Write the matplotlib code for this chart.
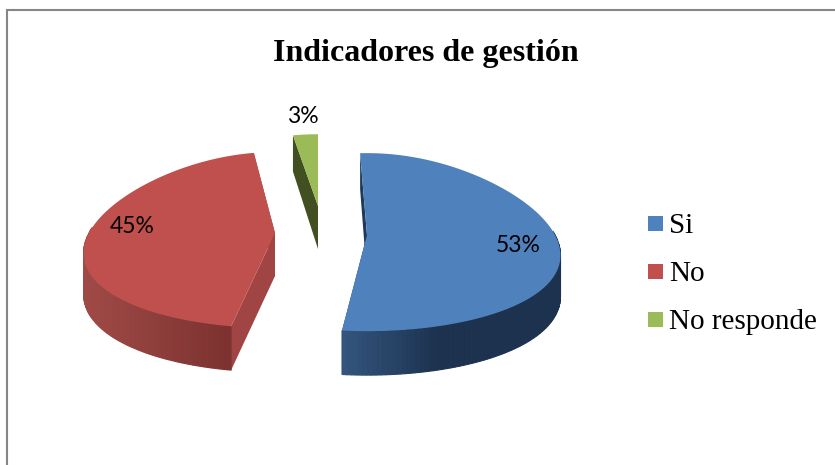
import numpy as np
import matplotlib.pyplot as plt
from matplotlib.colors import to_rgb
from matplotlib.patches import Polygon, Rectangle

# data
categories = ['Si', 'No', 'No responde']
values = [53, 45, 3]
labels = ['53%', '45%', '3%']

colors = ['#4f81bd', '#c0504d', '#9bbb59']
wall_left = ['#34567f', '#a04a47', '#414f21']
wall_right = ['#1c324e', '#762e2c', '#414f21']
radial_colors = ['#1f3a5c', '#a04543', '#414f21']

# exploded slice layout, in pixels: apex x, apex y, rx, ry, then a small turn in degrees
layout = [(367, 235, 188, 89, -2.8), (275, 233, 186, 88, 2.0), (318, 206, 179, 78, 0.0)]
label_pos = [(518, 245), (132, 226), (303, 116)]
persp_x = 0.25
persp_y = 0.08
depth_back = 36
depth_front = 44


def project(theta, cx, cy, rx, ry):
    # theta runs clockwise from 12 o'clock
    u = np.sin(theta)
    v = -np.cos(theta)
    return cx + rx * u * (1 + persp_x * v), cy + ry * v * (1 + persp_y * v)


def depth(theta):
    v = -np.cos(theta)
    return (depth_back + depth_front) / 2 + (depth_front - depth_back) / 2 * v


fig = plt.figure(figsize=(8.35, 4.65), dpi=100)
ax = fig.add_axes([0, 0, 1, 1])
ax.set_xlim(0, 835)
ax.set_ylim(465, 0)
ax.axis('off')

# chart border, only top and left are on the canvas
ax.plot([7, 7, 835], [465, 10, 10], color='#868686', linewidth=1.5, solid_joinstyle='miter')

ends = np.cumsum(values) / np.sum(values) * 2 * np.pi
starts = np.concatenate([[0], ends[:-1]])

for i in range(len(values)):
    cx, cy, rx, ry, turn = layout[i]
    thetas = np.linspace(starts[i], ends[i], 160) + np.radians(turn)
    xs, ys = project(thetas, cx, cy, rx, ry)

    # flat faces along the two radii
    for t in (thetas[0], thetas[-1]):
        px, py = project(t, cx, cy, rx, ry)
        d = depth(t)
        ax.add_patch(Polygon([(cx, cy), (px, py), (px, py + d), (cx, cy + 43)],
                             facecolor=radial_colors[i], edgecolor='none', zorder=2))

    # curved outer wall, split up for the shading
    c0 = np.array(to_rgb(wall_left[i]))
    c1 = np.array(to_rgb(wall_right[i]))
    xmin, xmax = xs.min(), xs.max()
    for j in range(len(thetas) - 1):
        if -np.cos(thetas[j]) < -0.05:
            continue
        quad = [(xs[j], ys[j]), (xs[j + 1], ys[j + 1]),
                (xs[j + 1], ys[j + 1] + depth(thetas[j + 1])),
                (xs[j], ys[j] + depth(thetas[j]))]
        f = (xs[j] - xmin) / (xmax - xmin)
        if i == 0:
            f = min(f * 2.2, 1)
        col = c0 + (c1 - c0) * f
        ax.add_patch(Polygon(quad, facecolor=col, edgecolor=col, linewidth=0.8, zorder=3))

    # top face
    ax.fill(np.r_[cx, xs], np.r_[cy, ys], color=colors[i], linewidth=0, zorder=4)

    ax.text(label_pos[i][0], label_pos[i][1], labels[i], family='Lato', fontsize=16.5,
            ha='center', va='center', color='black', zorder=5)

ax.text(425.5, 53, 'Indicadores de gestión', family='Liberation Serif', fontsize=23,
        fontweight='bold', ha='center', va='center', color='black')

# legend
for i, name in enumerate(categories):
    y = 216 + 48 * i
    ax.add_patch(Rectangle((648, y), 15, 15, facecolor=colors[i], edgecolor='none'))
    ax.text(669, y + 17, name, family='Liberation Serif', fontsize=21,
            ha='left', va='baseline', color='black')

fig.savefig('out.png', dpi=100)
